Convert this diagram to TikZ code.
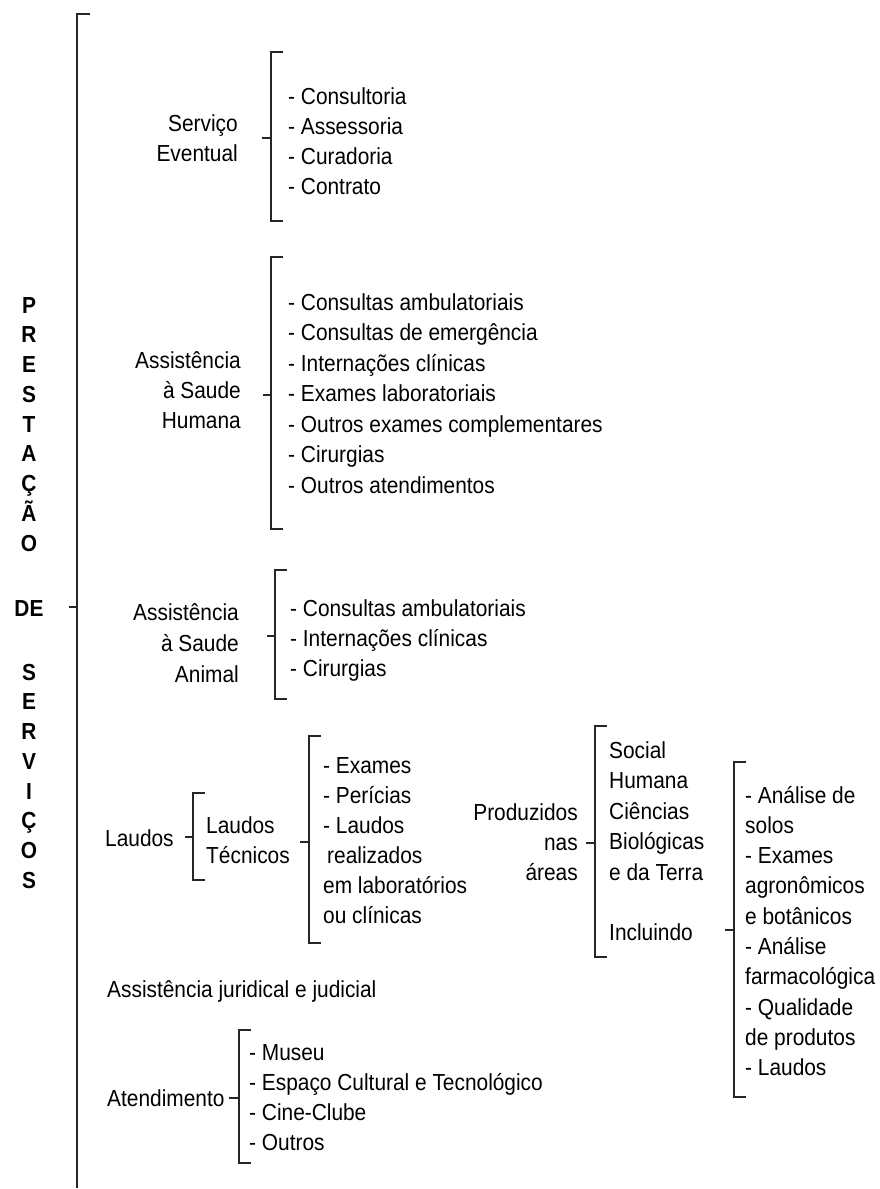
\documentclass[tikz,border=0pt]{standalone}
\usepackage{fontspec}
\setmainfont{Liberation Sans}[FakeStretch=0.9]
\usetikzlibrary{calc}
\begin{document}
\begin{tikzpicture}[x=1pt,y=-1pt,
  txt/.style={inner sep=0pt, anchor=base west, font=\fontsize{23.2}{30}\selectfont},
  txtr/.style={txt, anchor=base east},
  letter/.style={inner sep=0pt, anchor=base, font=\fontsize{23.2}{30}\selectfont\bfseries},
  brk/.style={draw=black!85, line width=1.1pt},
]
\useasboundingbox (0,0) rectangle (879,1189);

% ---------- main spine ----------
\coordinate (spineTop) at (77,14);
\coordinate (spineTopTick) at (90,14);
\coordinate (spineBot) at (77,1188);
\coordinate (spineMid) at (77,607);
\coordinate (spineMidL) at (69,607);
\draw[brk] (spineTopTick) -- (spineTop) -- (spineBot);
\draw[brk] (spineMidL) -- (spineMid);

% ---------- vertical title ----------
\foreach \l [count=\i from 0] in {P,R,E,S,T,A,Ç,Ã,O}
  \node[letter] (t\i) at (29,313+29.75*\i) {\l};
\node[letter] (de) at (29,616) {DE};
\foreach \l [count=\i from 0] in {S,E,R,V,I,Ç,O,S}
  \node[letter] (s\i) at (29,680+29.75*\i) {\l};

% ---------- Serviço Eventual ----------
\node[txtr] (se) at (238,131) {\begin{tabular}[t]{@{}r@{}}Serviço\\Eventual\end{tabular}};
\node[txt] (seItems) at (288,104.5) {\begin{tabular}[t]{@{}l@{}}- Consultoria\\- Assessoria\\- Curadoria\\- Contrato\end{tabular}};
\coordinate (b1t) at (271,52); \coordinate (b1b) at (271,221); \coordinate (b1m) at (271,138);
\draw[brk] ($(b1t)+(12,0)$) -- (b1t) -- (b1b) -- ($(b1b)+(12,0)$);
\draw[brk] ($(b1m)+(-9,0)$) -- (b1m);

% ---------- Assistência à Saude Humana ----------
\node[txtr] (ah) at (241,368) {\begin{tabular}[t]{@{}r@{}}Assistência\\à Saude\\Humana\end{tabular}};
\node[txt, font=\fontsize{23.2}{30.5}\selectfont] (ahItems) at (288,310) {\begin{tabular}[t]{@{}l@{}}- Consultas ambulatoriais\\- Consultas de emergência\\- Internações clínicas\\- Exames laboratoriais\\- Outros exames complementares\\- Cirurgias\\- Outros atendimentos\end{tabular}};
\coordinate (b2t) at (271,257); \coordinate (b2b) at (271,529); \coordinate (b2m) at (271,395);
\draw[brk] ($(b2t)+(12,0)$) -- (b2t) -- (b2b) -- ($(b2b)+(12,0)$);
\draw[brk] ($(b2m)+(-8,0)$) -- (b2m);

% ---------- Assistência à Saude Animal ----------
\node[txtr, font=\fontsize{23.2}{31}\selectfont] (aa) at (239,620) {\begin{tabular}[t]{@{}r@{}}Assistência\\à Saude\\Animal\end{tabular}};
\node[txt] (aaItems) at (290,616) {\begin{tabular}[t]{@{}l@{}}- Consultas ambulatoriais\\- Internações clínicas\\- Cirurgias\end{tabular}};
\coordinate (b3t) at (275,570); \coordinate (b3b) at (275,699); \coordinate (b3m) at (275,636);
\draw[brk] ($(b3t)+(12,0)$) -- (b3t) -- (b3b) -- ($(b3b)+(12,0)$);
\draw[brk] ($(b3m)+(-8,0)$) -- (b3m);

% ---------- Laudos ----------
\node[txt] (laudos) at (105,846) {Laudos};
\node[txt] (lt) at (206,833) {\begin{tabular}[t]{@{}l@{}}Laudos\\Técnicos\end{tabular}};
\coordinate (b4t) at (193,793); \coordinate (b4b) at (193,880); \coordinate (b4m) at (193,837);
\draw[brk] ($(b4t)+(12,0)$) -- (b4t) -- (b4b) -- ($(b4b)+(12,0)$);
\draw[brk] ($(b4m)+(-8,0)$) -- (b4m);

\node[txt] (ltItems) at (323,773) {\begin{tabular}[t]{@{}l@{}}- Exames\\- Perícias\\- Laudos\\\hspace{4pt}realizados\\em laboratórios\\ou clínicas\end{tabular}};
\coordinate (b5t) at (309,736); \coordinate (b5b) at (309,943); \coordinate (b5m) at (309,842);
\draw[brk] ($(b5t)+(12,0)$) -- (b5t) -- (b5b) -- ($(b5b)+(12,0)$);
\draw[brk] ($(b5m)+(-9,0)$) -- (b5m);

% ---------- Produzidos nas áreas ----------
\node[txtr] (prod) at (578,820) {\begin{tabular}[t]{@{}r@{}}Produzidos\\nas\\áreas\end{tabular}};
\node[txt, font=\fontsize{23.2}{30.5}\selectfont] (areas) at (609,758) {\begin{tabular}[t]{@{}l@{}}Social\\Humana\\Ciências\\Biológicas\\e da Terra\end{tabular}};
\node[txt] (incl) at (609,940) {Incluindo};
\coordinate (b6t) at (595,726); \coordinate (b6b) at (595,957); \coordinate (b6m) at (595,843);
\draw[brk] ($(b6t)+(12,0)$) -- (b6t) -- (b6b) -- ($(b6b)+(12,0)$);
\draw[brk] ($(b6m)+(-9,0)$) -- (b6m);

\node[txt, font=\fontsize{23.2}{30.3}\selectfont] (inclItems) at (745,803) {\begin{tabular}[t]{@{}l@{}}- Análise de\\solos\\- Exames\\agronômicos\\e botânicos\\- Análise\\farmacológica\\- Qualidade\\de produtos\\- Laudos\end{tabular}};
\coordinate (b7t) at (734,762); \coordinate (b7b) at (734,1097); \coordinate (b7m) at (734,930);
\draw[brk] ($(b7t)+(12,0)$) -- (b7t) -- (b7b) -- ($(b7b)+(12,0)$);
\draw[brk] ($(b7m)+(-9,0)$) -- (b7m);

% ---------- Assistência juridical ----------
\node[txt] (jur) at (107,997) {Assistência juridical e judicial};

% ---------- Atendimento ----------
\node[txt] (at) at (107,1106) {Atendimento};
\node[txt] (atItems) at (249,1060) {\begin{tabular}[t]{@{}l@{}}- Museu\\- Espaço Cultural e Tecnológico\\- Cine-Clube\\- Outros\end{tabular}};
\coordinate (b8t) at (239,1030); \coordinate (b8b) at (239,1163); \coordinate (b8m) at (239,1098);
\draw[brk] ($(b8t)+(12,0)$) -- (b8t) -- (b8b) -- ($(b8b)+(12,0)$);
\draw[brk] ($(b8m)+(-10,0)$) -- (b8m);
\end{tikzpicture}
\end{document}
